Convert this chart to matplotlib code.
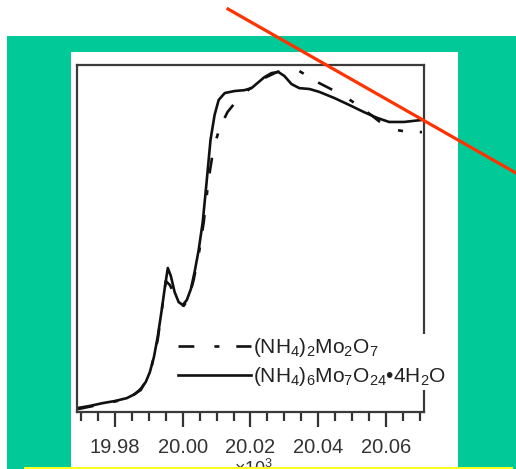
import matplotlib
matplotlib.use("Agg")
import matplotlib.pyplot as plt
from matplotlib.patches import Rectangle
from matplotlib.lines import Line2D
from matplotlib.ticker import MultipleLocator

plt.rcParams['font.family'] = ['Liberation Sans', 'DejaVu Sans']
plt.rcParams['mathtext.fontset'] = 'custom'
plt.rcParams['mathtext.rm'] = 'Liberation Sans'
plt.rcParams['mathtext.it'] = 'Liberation Sans'

# ---- data (energy in keV, normalized absorption) ----
energy_solid = [19.9691, 19.9726, 19.9765, 19.9800, 19.9835, 19.9859, 19.9876, 19.9891,
                19.9903, 19.9915, 19.9926, 19.9938, 19.9947, 19.9956, 19.9965, 19.9976,
                19.9988, 20.0000, 20.0012, 20.0024, 20.0035, 20.0047, 20.0059, 20.0071,
                20.0082, 20.0094, 20.0106, 20.0124, 20.0153, 20.0182, 20.0203, 20.0221,
                20.0241, 20.0262, 20.0282, 20.0300, 20.0321, 20.0344, 20.0374, 20.0403,
                20.0447, 20.0491, 20.0535, 20.0574, 20.0609, 20.0653, 20.0706]
mu_solid = [0.014, 0.021, 0.031, 0.038, 0.048, 0.062, 0.080, 0.104,
            0.138, 0.190, 0.259, 0.353, 0.429, 0.498, 0.470, 0.415,
            0.380, 0.370, 0.387, 0.425, 0.484, 0.560, 0.657, 0.802,
            0.941, 1.027, 1.079, 1.103, 1.110, 1.113, 1.120, 1.138,
            1.158, 1.172, 1.176, 1.162, 1.134, 1.120, 1.117, 1.107,
            1.086, 1.062, 1.037, 1.017, 1.003, 1.003, 1.010]

energy_dashed = [19.9691, 19.9765, 19.9835, 19.9876, 19.9903, 19.9926, 19.9950, 19.9962,
                 19.9976, 19.9991, 20.0003, 20.0018, 20.0032, 20.0047, 20.0062, 20.0076,
                 20.0091, 20.0109, 20.0132, 20.0156, 20.0182, 20.0212, 20.0241, 20.0279,
                 20.0315, 20.0344, 20.0374, 20.0397, 20.0432, 20.0476, 20.0515, 20.0556,
                 20.0594, 20.0632, 20.0668, 20.0706]
mu_dashed = [0.010, 0.028, 0.045, 0.076, 0.131, 0.249, 0.453, 0.439,
             0.405, 0.373, 0.367, 0.394, 0.456, 0.543, 0.657, 0.802,
             0.913, 0.982, 1.037, 1.072, 1.103, 1.131, 1.155, 1.176,
             1.183, 1.179, 1.158, 1.141, 1.120, 1.093, 1.062, 1.027,
             0.992, 0.975, 0.968, 0.968]

label_dashed = r'(NH$_4$)$_2$Mo$_2$O$_7$'
label_solid = r'(NH$_4$)$_6$Mo$_7$O$_{24}$•4H$_2$O'
xticks = [19.98, 20.00, 20.02, 20.04, 20.06]
xtick_labels = ['19.98', '20.00', '20.02', '20.04', '20.06']

W, H = 516, 469
fig = plt.figure(figsize=(W / 100, H / 100), dpi=100)
fig.patch.set_facecolor('white')


def fr(x0, y0, x1, y1):
    """pixel box (top-left origin) -> figure fraction rect"""
    return (x0 / W, 1 - y1 / H, (x1 - x0) / W, (y1 - y0) / H)


# green slide background
x, y, w, h = fr(7, 36, 516, 469)
fig.add_artist(Rectangle((x, y), w, h, transform=fig.transFigure,
                         facecolor='#02C998', edgecolor='none', zorder=0))
# white panel
x, y, w, h = fr(71, 52, 458, 469)
fig.add_artist(Rectangle((x, y), w, h, transform=fig.transFigure,
                         facecolor='white', edgecolor='none', zorder=0.5))

ax = fig.add_axes(fr(77, 65, 424, 412))
ax.set_facecolor('white')
ax.set_zorder(1)

ax.plot(energy_dashed, mu_dashed, color='#111111', lw=1.9,
        linestyle=(0, (6.0, 7.6, 1.9, 6.4)), label=label_dashed)
ax.plot(energy_solid, mu_solid, color='#111111', lw=1.9, label=label_solid)

ax.set_xlim(19.9688, 20.0712)
ax.set_ylim(0, 1.2)

ax.set_xticks(xticks)
ax.set_xticklabels(xtick_labels)
ax.xaxis.set_minor_locator(MultipleLocator(0.005))
ax.tick_params(axis='x', which='major', direction='out', length=11, width=1.6,
               color='#333333', labelsize=14.5, labelcolor='#333333', pad=8)
ax.tick_params(axis='x', which='minor', direction='out', length=6.5, width=1.6,
               color='#333333')
ax.tick_params(axis='y', left=False, labelleft=False)
for s in ax.spines.values():
    s.set_color('#3a3a3a')
    s.set_linewidth(1.6)

leg = ax.legend(handles=ax.get_lines(), loc='center left',
                bbox_to_anchor=(0.285, 0.143), frameon=True, framealpha=1,
                facecolor='white', edgecolor='none', fontsize=15,
                handlelength=3.5, handletextpad=0.08, labelspacing=0.28,
                borderpad=0.1, borderaxespad=0)
for t in leg.get_texts():
    t.set_color('#222222')

# cut-off multiplier label below the axis
fig.text(273 / W, 1 - 459 / H, r'×10$^3$', ha='right', va='top',
         fontsize=13, color='#333333', zorder=3)

# yellow strip at bottom
x, y, w, h = fr(24, 467, 513, 471)
fig.add_artist(Rectangle((x, y), w, h, transform=fig.transFigure,
                         facecolor='#FFFF22', edgecolor='none', zorder=4))

# red diagonal stroke
fig.add_artist(Line2D([228 / W, 516 / W], [1 - 9 / H, 1 - 173 / H],
                      transform=fig.transFigure, color='#FF3300', lw=2.3,
                      zorder=10))

fig.savefig('out.png', dpi=100)
